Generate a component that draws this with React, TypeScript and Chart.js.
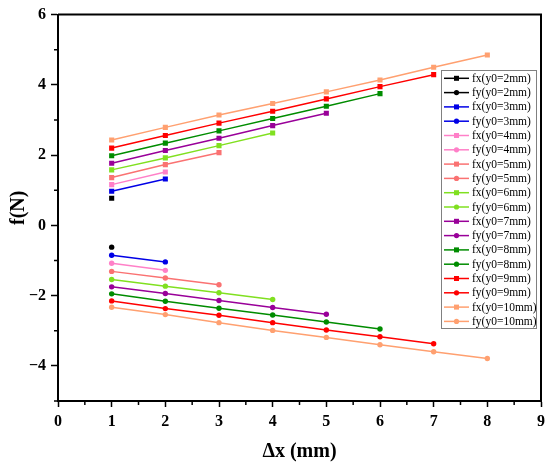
import React, { useEffect, useRef } from "react";
import { Chart, registerables } from "chart.js";

Chart.register(...registerables);

const dx = [1, 2, 3, 4, 5, 6, 7, 8];
const y0Labels = ["2mm", "3mm", "4mm", "5mm", "6mm", "7mm", "8mm", "9mm", "10mm"];
const colors = ["#000000", "#0000E6", "#FF80C8", "#FA7272", "#80E020", "#990099", "#008C00", "#FF0000", "#FFA070"];

const fx2 = [0.77];
const fy2 = [-0.62];
const fx3 = [0.97, 1.32];
const fy3 = [-0.85, -1.04];
const fx4 = [1.16, 1.52];
const fy4 = [-1.08, -1.28];
const fx5 = [1.36, 1.73, 2.07];
const fy5 = [-1.31, -1.5, -1.69];
const fx6 = [1.58, 1.92, 2.27, 2.63];
const fy6 = [-1.54, -1.73, -1.92, -2.11];
const fx7 = [1.77, 2.13, 2.48, 2.84, 3.19];
const fy7 = [-1.75, -1.94, -2.14, -2.34, -2.53];
const fx8 = [1.98, 2.34, 2.69, 3.04, 3.39, 3.75];
const fy8 = [-1.95, -2.16, -2.36, -2.55, -2.75, -2.95];
const fx9 = [2.2, 2.56, 2.91, 3.25, 3.6, 3.95, 4.29];
const fy9 = [-2.15, -2.37, -2.56, -2.77, -2.98, -3.17, -3.37];
const fx10 = [2.43, 2.79, 3.14, 3.47, 3.8, 4.14, 4.5, 4.85];
const fy10 = [-2.33, -2.54, -2.77, -2.99, -3.19, -3.4, -3.6, -3.79];

const fxSeries = [fx2, fx3, fx4, fx5, fx6, fx7, fx8, fx9, fx10];
const fySeries = [fy2, fy3, fy4, fy5, fy6, fy7, fy8, fy9, fy10];

const xMinorTicks = [0.5, 1.5, 2.5, 3.5, 4.5, 5.5, 6.5, 7.5, 8.5];
const yMinorTicks = [-5, -3, -1, 1, 3, 5];

const SERIF = "'Liberation Serif', 'Times New Roman', serif";

const framePlugin = {
  id: "frameAndMinor",
  afterDraw(chart: any) {
    const { ctx, chartArea } = chart;
    const xs = chart.scales.x;
    const ys = chart.scales.y;
    ctx.save();
    ctx.strokeStyle = "#000";
    ctx.lineWidth = 2;
    ctx.beginPath();
    ctx.moveTo(chartArea.left, chartArea.top);
    ctx.lineTo(chartArea.right, chartArea.top);
    ctx.lineTo(chartArea.right, chartArea.bottom);
    ctx.stroke();
    ctx.lineWidth = 1.5;
    ctx.beginPath();
    for (const v of xMinorTicks) {
      const px = xs.getPixelForValue(v);
      ctx.moveTo(px, chartArea.bottom);
      ctx.lineTo(px, chartArea.bottom + 4);
    }
    for (const v of yMinorTicks) {
      const py = ys.getPixelForValue(v);
      ctx.moveTo(chartArea.left, py);
      ctx.lineTo(chartArea.left - 4, py);
    }
    ctx.stroke();

    // legend box
    const bx = 441, by = 70, bw = 95, bh = 258;
    ctx.fillStyle = "#fff";
    ctx.fillRect(bx, by, bw, bh);
    ctx.strokeStyle = "#808080";
    ctx.lineWidth = 1;
    ctx.strokeRect(bx + 0.5, by + 0.5, bw, bh);
    ctx.font = `11.5px ${SERIF}`;
    ctx.textBaseline = "middle";
    ctx.textAlign = "left";
    chart.data.datasets.forEach((ds: any, i: number) => {
      const yy = 78.3 + i * 14.3;
      ctx.strokeStyle = ds.borderColor;
      ctx.lineWidth = 1.5;
      ctx.beginPath();
      ctx.moveTo(444, yy);
      ctx.lineTo(469, yy);
      ctx.stroke();
      ctx.fillStyle = ds.backgroundColor;
      if (ds.pointStyle === "rect") {
        ctx.fillRect(456.5 - 2.5, yy - 2.5, 5, 5);
      } else {
        ctx.beginPath();
        ctx.arc(456.5, yy, 2.6, 0, Math.PI * 2);
        ctx.fill();
      }
      ctx.fillStyle = "#000";
      ctx.fillText(ds.label, 472, yy + 0.5);
    });
    ctx.restore();
  },
};

export default function App() {
  const ref = useRef<HTMLCanvasElement | null>(null);
  useEffect(() => {
    document.body.style.margin = "0";
    const datasets: any[] = [];
    y0Labels.forEach((lab, i) => {
      const c = colors[i];
      datasets.push({
        label: `fx(y0=${lab})`,
        data: fxSeries[i].map((v, j) => ({ x: dx[j], y: v })),
        borderColor: c,
        backgroundColor: c,
        pointStyle: "rect",
        pointRadius: 3.6,
        pointBorderWidth: 0,
        borderWidth: 1.5,
      });
      datasets.push({
        label: `fy(y0=${lab})`,
        data: fySeries[i].map((v, j) => ({ x: dx[j], y: v })),
        borderColor: c,
        backgroundColor: c,
        pointStyle: "circle",
        pointRadius: 2.7,
        pointBorderWidth: 0,
        borderWidth: 1.5,
      });
    });
    const chart = new Chart(ref.current as HTMLCanvasElement, {
      type: "line",
      data: { datasets },
      options: {
        animation: false,
        responsive: false,
        layout: { padding: { top: 11, right: 8, left: 0, bottom: 0 } },
        plugins: { legend: { display: false }, tooltip: { enabled: false } },
        scales: {
          x: {
            type: "linear",
            min: 0,
            max: 9,
            ticks: {
              stepSize: 1,
              color: "#000",
              padding: 5,
              font: { family: SERIF, size: 16, weight: "bold" },
            },
            grid: { drawOnChartArea: false, drawTicks: true, tickLength: 6, tickColor: "#000", tickWidth: 1.5 },
            border: { display: true, color: "#000", width: 2 },
            title: {
              display: true,
              text: "Δx (mm)",
              color: "#000",
              padding: { top: 0, bottom: 4 },
              font: { family: SERIF, size: 20, weight: "bold" },
            },
            afterFit: (s: any) => { s.height = 67; },
          },
          y: {
            type: "linear",
            min: -5,
            max: 6,
            ticks: {
              stepSize: 1,
              color: "#000",
              padding: 5,
              font: { family: SERIF, size: 16, weight: "bold" },
              callback: (v: any) => (v % 2 === 0 ? (v < 0 ? "−" + Math.abs(v) : String(v)) : ""),
            },
            grid: {
              drawOnChartArea: false,
              drawTicks: true,
              tickLength: 7,
              tickWidth: 1.5,
              tickColor: (ctx: any) => (ctx.tick && ctx.tick.value % 2 === 0 ? "#000" : "rgba(0,0,0,0)"),
            },
            border: { display: true, color: "#000", width: 2 },
            title: {
              display: true,
              text: "f(N)",
              color: "#000",
              padding: { top: 7, bottom: 0 },
              font: { family: SERIF, size: 20, weight: "bold" },
            },
            afterFit: (s: any) => { s.width = 58; },
          },
        },
      },
      plugins: [framePlugin],
    } as any);
    return () => chart.destroy();
  }, []);
  return (
    <div style={{ position: "absolute", left: 0, top: 0, width: 550, height: 468 }}>
      <canvas ref={ref} width={550} height={468} />
    </div>
  );
}
